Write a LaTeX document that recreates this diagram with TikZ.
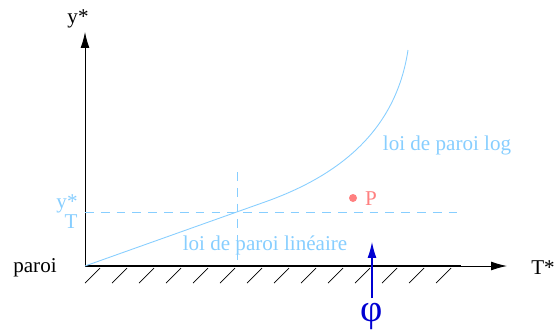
\documentclass[tikz,border=0pt]{standalone}
\usepackage{fontspec}
\setmainfont{Liberation Serif}
\usetikzlibrary{arrows.meta}
\definecolor{ciel}{RGB}{135,206,255}
\definecolor{rose}{RGB}{255,128,128}
\definecolor{bleu}{RGB}{0,0,210}
\tikzset{
  fleche/.style={-{Latex[length=9pt,width=5pt]}},
  loi/.style={ciel, line width=0.5pt},
  txt/.style={font=\fontsize{12}{14}\selectfont, inner sep=1pt}
}
\begin{document}
\begin{tikzpicture}[x=0.02cm, y=-0.02cm]
  \useasboundingbox (0,0) rectangle (554,335);
  % axes
  \coordinate (O) at (85,266);
  \coordinate (ymax) at (85,32);
  \coordinate (pfin) at (461,266);
  \coordinate (xmax) at (507,266);
  \draw[fleche, line width=0.5pt] (O) -- (ymax);
  \draw[fleche, line width=0.5pt] (pfin) -- (xmax);
  \draw[line width=1.7pt] (O) -- (pfin);
  \foreach \i in {0,...,13}
    \draw[line width=0.4pt] (85+27*\i,283) -- ++(15,-15);
  \node[txt] (ylab) at (78,19) {y*};
  \node[txt] (xlab) at (543,268) {T*};
  \node[txt] (paroi) at (35,268) {paroi};
  % lois de paroi
  \coordinate (yT) at (85,212);
  \coordinate (yTfin) at (461,212);
  \coordinate (xT) at (237,172);
  \coordinate (xTbas) at (237,266);
  \draw[loi, dashed, dash pattern=on 5pt off 4pt] (yT) -- (yTfin);
  \draw[loi, dashed, dash pattern=on 5pt off 4pt] (xT) -- (xTbas);
  \coordinate (raccord) at (262,203);
  \coordinate (haut) at (408,50);
  \draw[loi] (O) -- (raccord) .. controls (340,176) and (396,130) .. (haut);
  \node[txt, ciel, align=right, font=\fontsize{12}{10}\selectfont] (ystar) at (67,212) {y*\\T};
  \node[txt, ciel] (lin) at (265,245) {loi de paroi linéaire};
  \node[txt, ciel] (log) at (447,145) {loi de paroi log};
  % point P
  \fill[rose] (353,198) circle (4) coordinate (P);
  \node[txt, rose] (plab) at (371,199) {P};
  % flux
  \coordinate (phibas) at (372,298);
  \coordinate (phihaut) at (372,242);
  \draw[fleche, bleu, line width=0.6pt] (phibas) -- (phihaut);
  \node[bleu, font=\fontsize{22}{24}\selectfont] (phi) at (372,316) {φ};
\end{tikzpicture}
\end{document}
